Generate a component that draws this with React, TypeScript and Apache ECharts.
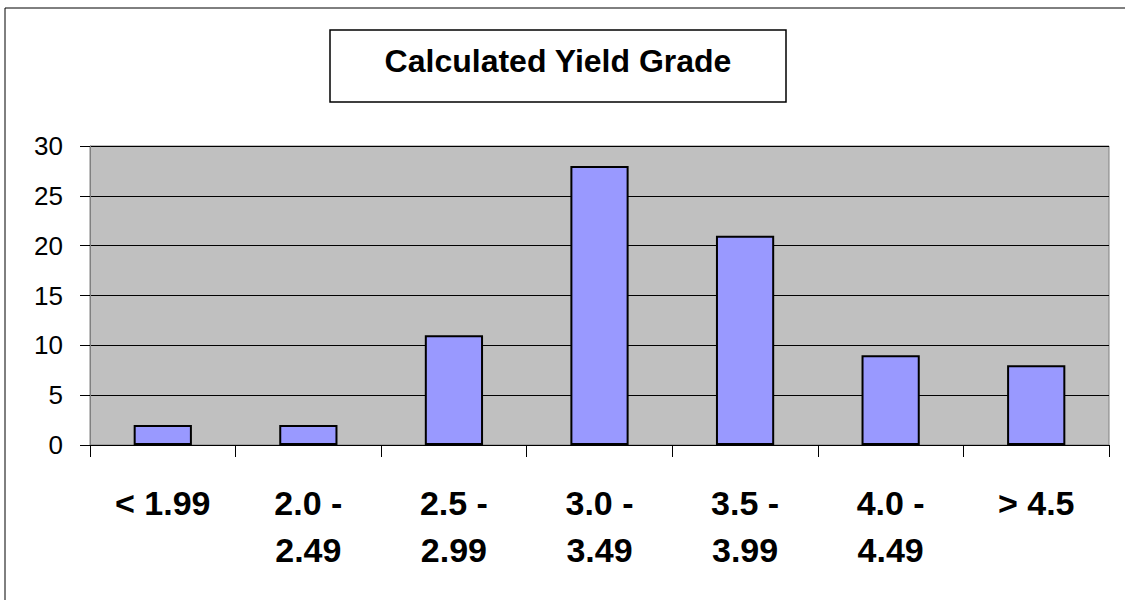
import React, { useEffect, useRef } from "react";
import * as echarts from "echarts";

const categories = ["< 1.99", "2.0 -\n2.49", "2.5 -\n2.99", "3.0 -\n3.49", "3.5 -\n3.99", "4.0 -\n4.49", "> 4.5"];
const counts = [2, 2, 11, 28, 21, 9, 8];
const titleText = "Calculated Yield Grade";

export default function App() {
  const ref = useRef<HTMLDivElement>(null);
  useEffect(() => {
    document.body.style.margin = "0";
    const chart = echarts.init(ref.current!, null, { renderer: "svg" });
    chart.setOption({
      animation: false,
      backgroundColor: "#ffffff",
      textStyle: { fontFamily: "Arial, 'Liberation Sans', sans-serif" },
      grid: {
        left: 90,
        top: 146,
        right: 16,
        bottom: 155,
        show: true,
        backgroundColor: "#c0c0c0",
        borderColor: "#808080",
        borderWidth: 1,
        containLabel: false,
      },
      xAxis: {
        type: "category",
        data: categories,
        axisLine: { show: true, lineStyle: { color: "#000", width: 1 } },
        axisTick: { show: true, length: 12, alignWithLabel: false, lineStyle: { color: "#000" } },
        axisLabel: {
          color: "#000",
          fontSize: 34,
          fontWeight: "bold",
          fontFamily: "Arial, 'Liberation Sans', sans-serif",
          lineHeight: 47,
          margin: 34,
          interval: 0,
        },
      },
      yAxis: {
        type: "value",
        min: 0,
        max: 30,
        interval: 5,
        axisLine: { show: true, lineStyle: { color: "#808080", width: 1 } },
        axisTick: { show: true, length: 10, lineStyle: { color: "#000" } },
        axisLabel: {
          color: "#000",
          fontSize: 26,
          fontFamily: "Arial, 'Liberation Sans', sans-serif",
          margin: 27,
        },
        splitLine: { show: true, lineStyle: { color: "#000", width: 1 } },
      },
      series: [
        {
          type: "bar",
          data: counts,
          barWidth: "40%",
          itemStyle: { color: "#9999ff", borderColor: "#000", borderWidth: 2 },
        },
      ],
      graphic: [
        {
          type: "rect",
          shape: { x: 5, y: 8, width: 1130, height: 600 },
          style: { fill: "none", stroke: "#000", lineWidth: 1 },
          z: 100,
        },
        {
          type: "rect",
          shape: { x: 330, y: 30, width: 456, height: 72 },
          style: { fill: "#fff", stroke: "#000", lineWidth: 1.5 },
          z: 100,
        },
        {
          type: "text",
          x: 558,
          y: 61,
          style: {
            text: titleText,
            fill: "#000",
            fontSize: 32,
            fontWeight: "bold",
            fontFamily: "Arial, 'Liberation Sans', sans-serif",
            textAlign: "center",
            textVerticalAlign: "middle",
          },
          z: 101,
        },
      ],
    });
    return () => chart.dispose();
  }, []);
  return <div ref={ref} style={{ width: 1125, height: 600 }} />;
}
